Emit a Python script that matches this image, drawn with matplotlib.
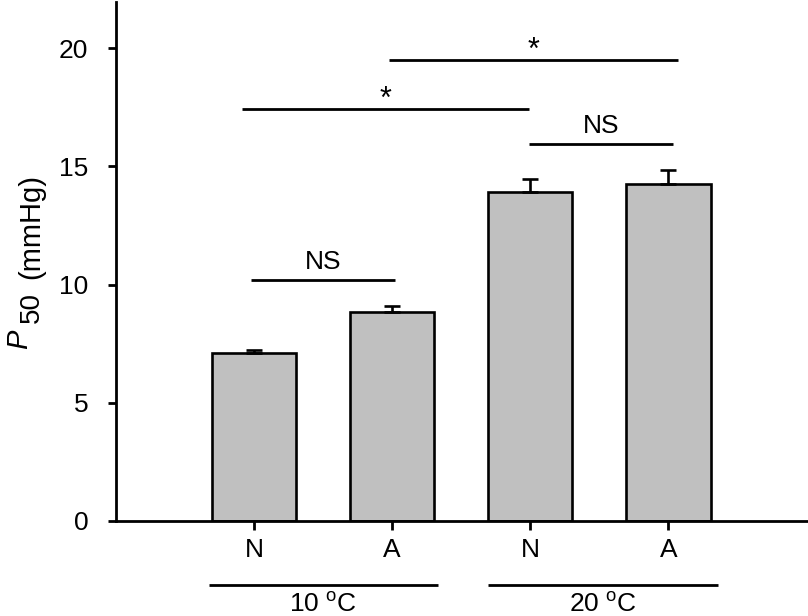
import matplotlib
matplotlib.use("Agg")
import matplotlib.pyplot as plt

plt.rcParams['font.family'] = ['Liberation Sans', 'DejaVu Sans']
plt.rcParams['mathtext.fontset'] = 'custom'
plt.rcParams['mathtext.rm'] = 'Liberation Sans'
plt.rcParams['mathtext.it'] = 'Liberation Sans:italic'

# Data
categories = ["N", "A", "N", "A"]
values = [7.10, 8.84, 13.90, 14.26]
errors = [0.14, 0.27, 0.56, 0.58]
groups = ["10 $^{\\mathrm{o}}$C", "20 $^{\\mathrm{o}}$C"]
yticks = [0, 5, 10, 15, 20]

# significance brackets (from, to, level, label)
sig_from = [-0.02, -0.09, 1.99, 0.98]
sig_to = [1.02, 1.99, 3.03, 3.07]
sig_level = [10.2, 17.42, 15.94, 19.49]
sig_label = ["NS", "*", "NS", "*"]

FS = 19
fig = plt.figure(figsize=(8.08, 6.16), dpi=100)
ax = fig.add_axes([116/808, 95/616, 1 - 116/808, (521-2)/616])

x = list(range(len(values)))
ax.bar(x, values, width=0.61, color='#c0c0c0', edgecolor='black', linewidth=1.9, zorder=2)
ax.errorbar(x, values, yerr=[[0]*len(errors), errors], fmt='none', ecolor='black',
            elinewidth=1.9, capsize=5.5, capthick=1.9, zorder=3)

ax.set_xlim(-1.0, 4.01)
ax.set_ylim(0, 21.95)
ax.set_yticks(yticks)
ax.set_yticklabels([str(t) for t in yticks], fontsize=FS)
ax.set_xticks(x)
ax.set_xticklabels(categories, fontsize=FS)
for s in ['top', 'right']:
    ax.spines[s].set_visible(False)
for s in ['left', 'bottom']:
    ax.spines[s].set_linewidth(2.0)
ax.tick_params(axis='y', direction='out', length=6, width=2.0, pad=14)
ax.tick_params(axis='x', direction='out', length=6.5, width=2.0, pad=6)

# significance lines
for x0, x1, lv, lab in zip(sig_from, sig_to, sig_level, sig_label):
    ax.plot([x0, x1], [lv, lv], color='black', lw=2.0, solid_capstyle='butt', clip_on=False)
    if lab == "*":
        ax.text((x0 + x1) / 2, lv + 0.05, lab, ha='center', va='baseline', fontsize=FS + 3)
    else:
        ax.text((x0 + x1) / 2, lv + 0.45, lab, ha='center', va='baseline', fontsize=FS)

# group lines
group_from = [-0.33, 1.69]
group_to = [1.33, 3.36]
for g, x0, x1 in zip(groups, group_from, group_to):
    ax.plot([x0, x1], [-2.71, -2.71], color='black', lw=2.0, solid_capstyle='butt', clip_on=False)
    ax.text((x0 + x1) / 2, -3.85, g, ha='center', va='baseline', fontsize=FS, clip_on=False)

# y label: italic P with lowered "50 (mmHg)"
fig.text(27/808, (616-349)/616, "P", rotation=90, rotation_mode='anchor', ha='left',
         va='baseline', fontsize=FS + 2, style='italic')
fig.text(39/808, (616-323)/616, "50", rotation=90, rotation_mode='anchor', ha='left',
         va='baseline', fontsize=FS + 1)
fig.text(39/808, (616-279)/616, "(mmHg)", rotation=90, rotation_mode='anchor', ha='left',
         va='baseline', fontsize=FS + 2)

fig.savefig("out.png", dpi=100)
